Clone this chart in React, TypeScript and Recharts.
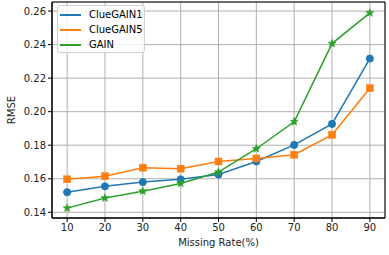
import React from 'react';
import {
  LineChart, Line, XAxis, YAxis, CartesianGrid, Legend, ReferenceArea,
} from 'recharts';

const rates = [10, 20, 30, 40, 50, 60, 70, 80, 90];
const clueGain1 = [0.152, 0.1555, 0.158, 0.1597, 0.1625, 0.1703, 0.1802, 0.1927, 0.2317];
const clueGain5 = [0.1597, 0.1615, 0.1666, 0.166, 0.1703, 0.1721, 0.1743, 0.1862, 0.214];
const gain = [0.1425, 0.1485, 0.1526, 0.1572, 0.164, 0.1779, 0.194, 0.2406, 0.2589];

const xTicks = [10, 20, 30, 40, 50, 60, 70, 80, 90];
const yTicks = [0.14, 0.16, 0.18, 0.2, 0.22, 0.24, 0.26];

const data = rates.map((r, i) => ({
  rate: r,
  ClueGAIN1: clueGain1[i],
  ClueGAIN5: clueGain5[i],
  GAIN: gain[i],
}));

const BLUE = '#1f77b4';
const ORANGE = '#ff7f0e';
const GREEN = '#2ca02c';
const FONT = 'DejaVu Sans, sans-serif';

const series = [
  { key: 'ClueGAIN1', color: BLUE },
  { key: 'ClueGAIN5', color: ORANGE },
  { key: 'GAIN', color: GREEN },
];

const CircleDot = (props: any) => {
  const { cx, cy, index } = props;
  return <circle key={`c-${index}`} cx={cx} cy={cy} r={3.6} fill={BLUE} stroke={BLUE} strokeWidth={0.8} />;
};

const SquareDot = (props: any) => {
  const { cx, cy, index } = props;
  return <rect key={`s-${index}`} x={cx - 3.5} y={cy - 3.5} width={7} height={7} fill={ORANGE} stroke={ORANGE} strokeWidth={0.5} />;
};

const StarDot = (props: any) => {
  const { cx, cy, index } = props;
  const pts: string[] = [];
  for (let k = 0; k < 10; k++) {
    const rad = k % 2 === 0 ? 4.2 : 1.8;
    const a = -Math.PI / 2 + (k * Math.PI) / 5;
    pts.push(`${cx + rad * Math.cos(a)},${cy + rad * Math.sin(a)}`);
  }
  return <polygon key={`g-${index}`} points={pts.join(' ')} fill={GREEN} stroke={GREEN} strokeWidth={0.6} />;
};

const LegendBox = () => (
  <div
    style={{
      width: 86,
      height: 46,
      border: '1px solid #d0d0d0',
      borderRadius: 3,
      background: 'rgba(255,255,255,0.8)',
      fontFamily: FONT,
      fontSize: 10,
      color: '#000',
      position: 'relative',
    }}
  >
    {series.map((s, i) => (
      <div key={s.key} style={{ position: 'absolute', left: 2, top: 3 + i * 15, height: 12, display: 'flex', alignItems: 'center' }}>
        <div style={{ width: 21, height: 2, background: s.color }} />
        <span style={{ marginLeft: 8, lineHeight: '12px' }}>{s.key}</span>
      </div>
    ))}
  </div>
);

export default function App() {
  return (
    <div style={{ position: 'absolute', left: 0, top: 0, background: '#fff' }}>
      <LineChart width={389} height={255} data={data} margin={{ top: 2, right: 4, left: 0, bottom: 0 }}>
        <CartesianGrid stroke="#b0b0b0" strokeWidth={1} />
        <XAxis
          dataKey="rate"
          type="number"
          domain={[6, 94]}
          ticks={xTicks}
          height={37}
          tickSize={4}
          tickLine={{ stroke: '#000' }}
          axisLine={{ stroke: '#000' }}
          tick={{ fill: '#222', fontSize: 10, fontFamily: FONT }}
          label={(p: any) => {
            const vb = p.viewBox || {};
            return (
              <text x={vb.x + vb.width / 2} y={vb.y + 28} textAnchor="middle" fontSize={10} fontFamily={FONT} fill="#222">
                Missing Rate(%)
              </text>
            );
          }}
        />
        <YAxis
          type="number"
          domain={[0.1366, 0.2654]}
          ticks={yTicks}
          width={52}
          tickSize={4}
          tickLine={{ stroke: '#000' }}
          axisLine={{ stroke: '#000' }}
          tickFormatter={(v: number) => v.toFixed(2)}
          tick={{ fill: '#222', fontSize: 10, fontFamily: FONT }}
          label={(p: any) => {
            const vb = p.viewBox || {};
            const cy = vb.y + vb.height / 2;
            return (
              <text x={15} y={cy} transform={`rotate(-90 15 ${cy})`} textAnchor="middle" fontSize={10} fontFamily={FONT} fill="#222">
                RMSE
              </text>
            );
          }}
        />
        <Line type="linear" dataKey="ClueGAIN1" stroke={BLUE} strokeWidth={1.5} dot={CircleDot} activeDot={false} isAnimationActive={false} />
        <Line type="linear" dataKey="ClueGAIN5" stroke={ORANGE} strokeWidth={1.5} dot={SquareDot} activeDot={false} isAnimationActive={false} />
        <Line type="linear" dataKey="GAIN" stroke={GREEN} strokeWidth={1.5} dot={StarDot} activeDot={false} isAnimationActive={false} />
        <ReferenceArea x1={6} x2={94} y1={0.1366} y2={0.2654} fill="none" stroke="#000" strokeWidth={1} />
        <Legend
          layout="vertical"
          align="center"
          verticalAlign="middle"
          wrapperStyle={{ top: 5, left: 57, width: 'auto' }}
          content={() => <LegendBox />}
        />
      </LineChart>
    </div>
  );
}
